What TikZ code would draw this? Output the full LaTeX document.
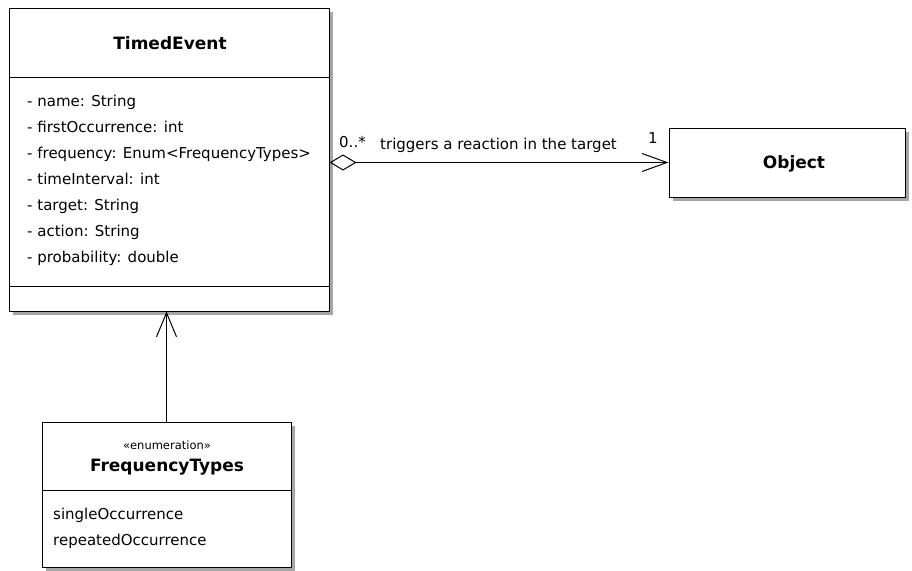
\documentclass[tikz,border=0pt]{standalone}
\usepackage{fontspec}
\setmainfont{DejaVu Sans}
\usetikzlibrary{arrows.meta,shadows}
\begin{document}
\begin{tikzpicture}[x=1pt,y=-1pt,
  classbox/.style={draw=black,line width=1pt,fill=white,inner sep=0pt,
    drop shadow={shadow xshift=3.5pt,shadow yshift=-3.5pt,fill=black!35,opacity=1}},
  sep/.style={draw=black,line width=1pt},
  title/.style={font=\fontsize{17}{19}\selectfont\bfseries,inner sep=0pt},
  attr/.style={font=\fontsize{15}{17}\selectfont,anchor=mid west,inner sep=0pt},
  small/.style={font=\fontsize{11.5}{13}\selectfont,inner sep=0pt},
  conn/.style={draw=black,line width=1pt},
  assoc/.style={conn,{Diamond[open,length=27pt,width=16pt,line width=1pt]}-{Straight Barb[length=25pt,width=18pt,line width=1pt]}},
  gen/.style={conn,-{Straight Barb[length=24pt,width=20pt,line width=1pt]}}]

\useasboundingbox (0,0) rectangle (912,570);

% class TimedEvent
\node[classbox,minimum width=320pt,minimum height=303pt] (te) at (169,159.5) {};
\draw[sep] (te.west |- 0,77) -- (te.east |- 0,77);
\draw[sep] (te.west |- 0,286) -- (te.east |- 0,286);
\node[title] (teName) at (170,43) {TimedEvent};
\node[attr] (a1) at (27,104) {- name: String};
\node[attr] (a2) at (27,130) {- firstOccurrence: int};
\node[attr] (a3) at (27,156) {- frequency: Enum<FrequencyTypes>};
\node[attr] (a4) at (27,182) {- timeInterval: int};
\node[attr] (a5) at (27,208) {- target: String};
\node[attr] (a6) at (27,234) {- action: String};
\node[attr] (a7) at (27,260) {- probability: double};

% class Object
\node[classbox,minimum width=236pt,minimum height=69pt] (obj) at (787,162.5) {};
\node[title] (objName) at (794,164) {Object};

% enumeration FrequencyTypes
\node[classbox,minimum width=249pt,minimum height=145pt] (ft) at (166.5,494.5) {};
\draw[sep] (ft.west |- 0,490) -- (ft.east |- 0,490);
\node[small] (ftSt) at (167,445) {«enumeration»};
\node[title] (ftName) at (167,467) {FrequencyTypes};
\node[attr] (l1) at (53,517) {singleOccurrence};
\node[attr] (l2) at (53,543) {repeatedOccurrence};

% connectors
\draw[assoc] (te.east |- obj.west) -- (obj.west);
\node[attr] (mult0) at (339,145) {0..*};
\node[attr] (role) at (380,147) {triggers a reaction in the target};
\node[attr] (mult1) at (648,141) {1};
\draw[gen] (ft.north) -- (ft.north |- te.south);
\end{tikzpicture}
\end{document}
